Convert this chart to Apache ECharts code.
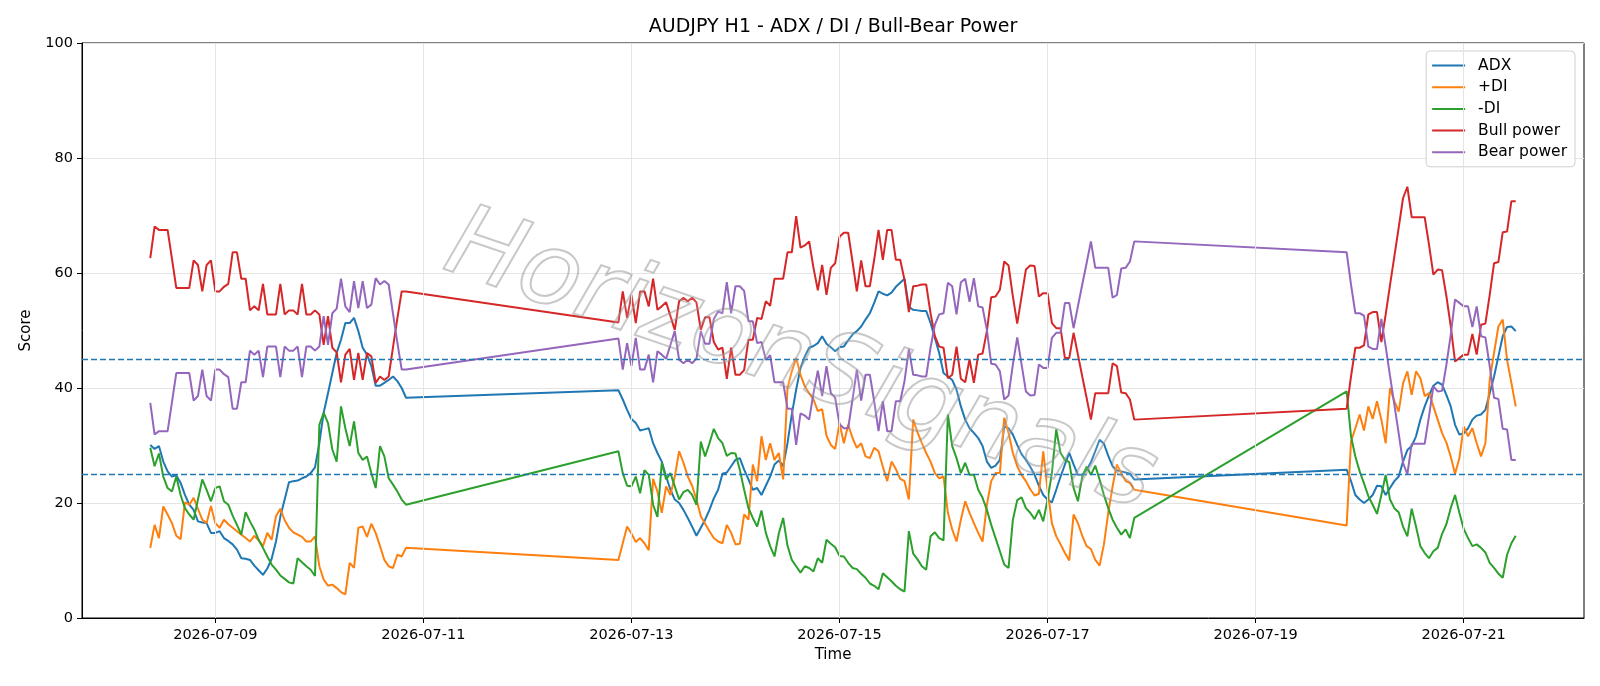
<!DOCTYPE html>
<html><head><meta charset="utf-8">
<script src="https://cdn.jsdelivr.net/npm/echarts@6/dist/echarts.min.js"></script>
<style>html,body{margin:0;padding:0;background:#fff}#c{width:1600px;height:686px}</style>
</head><body><div id="c"></div>
<script>
// ---- data ----
const sessionStarts = ['2026-07-08T09:00:00Z', '2026-07-12T21:00:00Z', '2026-07-19T21:00:00Z'];
const sessionLengths = [60, 120, 40];
const xTickLabels = ['2026-07-09', '2026-07-11', '2026-07-13', '2026-07-15', '2026-07-17', '2026-07-19', '2026-07-21'];
const thresholds = [25, 45];
const seriesNames = ['ADX', '+DI', '-DI', 'Bull power', 'Bear power'];
const seriesColors = ['#1f77b4', '#ff7f0e', '#2ca02c', '#d62728', '#9467bd'];

const adx = [
  30.1, 29.4, 29.9, 27.2, 25.5, 24.6, 24.8, 23.5, 21.4, 19.7,
  18.8, 16.8, 16.6, 16.5, 14.8, 14.8, 15.1, 13.9, 13.4, 12.8,
  11.9, 10.4, 10.3, 10.1, 9.1, 8.3, 7.5, 8.6, 10.3, 13.3,
  17.6, 20.6, 23.6, 23.8, 23.9, 24.3, 24.6, 25.2, 26.2, 30.4,
  35.7, 39.1, 42.6, 46.1, 48.4, 51.3, 51.3, 52.2, 49.9, 47.0,
  45.8, 43.8, 40.4, 40.4, 40.9, 41.4, 42.0, 41.2, 40.0, 38.3,
  39.6, 38.0, 36.2, 34.6, 33.9, 32.6, 32.8, 33.0, 30.4, 28.7,
  27.2, 24.6, 22.3, 20.6, 20.0, 18.8, 17.4, 15.9, 14.3, 15.7,
  17.1, 18.8, 20.8, 22.3, 25.1, 25.3, 26.4, 27.5, 27.8, 25.8,
  24.1, 22.3, 22.6, 21.4, 23.0, 24.6, 26.7, 27.4, 26.4, 30.4,
  35.4, 39.7, 43.5, 45.5, 47.0, 47.3, 47.8, 49.0, 47.7, 47.1,
  46.4, 47.1, 47.2, 48.3, 49.3, 49.9, 50.7, 51.9, 53.0, 54.8,
  56.8, 56.4, 56.1, 56.6, 57.6, 58.3, 59.0, 54.1, 53.6, 53.5,
  53.4, 53.4, 51.3, 48.7, 46.1, 42.6, 42.0, 41.4, 39.7, 36.8,
  34.5, 33.0, 32.2, 31.3, 29.9, 27.2, 26.1, 26.5, 27.5, 33.3,
  33.0, 31.9, 30.1, 28.5, 27.5, 26.3, 24.9, 23.0, 21.4, 20.6,
  20.1, 22.3, 24.6, 26.7, 28.7, 26.7, 24.9, 24.9, 25.8, 27.1,
  29.0, 31.0, 30.3, 28.2, 26.4, 25.7, 25.5, 25.3, 25.1, 24.1,
  25.8, 23.8, 21.4, 20.6, 20.0, 20.6, 21.4, 23.0, 22.9, 21.4,
  22.6, 23.8, 24.6, 27.2, 29.2, 29.9, 31.6, 34.5, 36.8, 38.7,
  40.4, 41.0, 40.6, 38.8, 36.8, 33.6, 31.9, 32.1, 33.0, 34.5,
  35.2, 35.4, 36.2, 39.1, 42.0, 45.5, 49.0, 50.6, 50.7, 49.9
];
const plusDI = [
  12.2, 16.2, 13.9, 19.4, 18.0, 16.5, 14.3, 13.7, 20.1, 19.7,
  20.9, 19.0, 17.1, 16.5, 19.5, 16.5, 15.7, 17.1, 16.3, 15.7,
  15.1, 14.5, 13.9, 13.3, 14.3, 13.5, 12.5, 14.8, 13.6, 17.7,
  19.0, 17.0, 15.7, 14.9, 14.5, 14.1, 13.3, 13.3, 14.2, 9.0,
  6.7, 5.6, 5.8, 5.2, 4.5, 4.1, 9.6, 8.7, 15.7, 15.9,
  14.1, 16.4, 14.8, 12.5, 10.1, 9.0, 8.7, 11.0, 10.7, 12.2,
  10.1, 13.0, 15.9, 14.7, 13.2, 13.9, 13.0, 11.8, 24.2, 22.0,
  18.3, 22.9, 21.4, 24.6, 29.0, 27.0, 24.6, 23.0, 20.6, 17.7,
  16.4, 15.1, 13.9, 13.3, 13.0, 16.2, 14.8, 12.8, 12.9, 18.0,
  17.1, 26.7, 23.8, 31.6, 27.5, 30.4, 27.5, 28.7, 24.1, 40.0,
  42.9, 45.2, 42.3, 40.3, 39.1, 38.0, 36.0, 36.3, 31.7, 30.1,
  29.4, 33.9, 30.4, 33.6, 31.3, 29.6, 30.4, 28.1, 27.8, 29.6,
  29.0, 26.3, 23.8, 27.2, 25.9, 24.2, 23.8, 20.6, 34.5, 32.3,
  30.4, 28.7, 27.2, 25.2, 24.3, 24.6, 18.3, 15.4, 13.3, 17.1,
  20.3, 18.3, 16.5, 14.8, 13.3, 19.7, 23.8, 25.2, 25.2, 34.8,
  32.2, 28.7, 26.4, 24.9, 23.8, 22.4, 21.3, 21.6, 29.0, 22.3,
  16.5, 14.2, 12.8, 11.3, 10.0, 18.0, 16.5, 14.3, 12.5, 12.0,
  10.1, 9.1, 12.8, 18.3, 22.9, 26.7, 25.2, 23.8, 23.5, 22.3,
  16.1, 30.7, 33.0, 35.4, 32.6, 36.8, 34.6, 37.7, 34.5, 30.4,
  40.0, 37.7, 35.9, 40.8, 42.9, 38.8, 42.9, 41.7, 38.6, 39.1,
  36.8, 34.5, 32.2, 30.5, 28.1, 25.1, 27.8, 33.3, 31.6, 33.0,
  30.4, 28.1, 30.4, 41.4, 46.1, 50.7, 51.9, 44.9, 40.9, 36.8
];
const minusDI = [
  29.6, 26.4, 28.6, 24.6, 22.6, 22.0, 24.6, 21.4, 19.1, 18.0,
  17.1, 20.6, 24.1, 22.3, 20.3, 22.6, 22.9, 20.3, 19.7, 17.8,
  16.2, 14.5, 18.4, 16.8, 15.4, 13.6, 12.2, 10.7, 9.3, 8.4,
  7.4, 6.8, 6.2, 6.0, 10.4, 9.7, 9.0, 8.4, 7.3, 33.6,
  35.7, 33.9, 29.3, 27.2, 36.8, 33.0, 29.9, 34.2, 28.7, 27.5,
  28.1, 25.2, 22.6, 29.9, 28.1, 24.3, 23.2, 22.0, 20.6, 19.7,
  29.0, 25.2, 23.0, 22.9, 24.6, 21.7, 25.7, 24.9, 19.7, 17.6,
  27.0, 24.1, 25.2, 22.9, 20.6, 21.9, 22.3, 21.4, 19.7, 30.7,
  28.1, 30.4, 32.9, 31.3, 30.4, 28.2, 28.7, 28.6, 25.8, 22.3,
  19.1, 17.4, 15.9, 18.7, 14.8, 12.5, 10.7, 14.7, 17.4, 12.6,
  10.1, 9.0, 7.9, 9.0, 8.7, 8.1, 10.4, 9.6, 13.6, 12.9,
  12.3, 10.8, 10.7, 9.6, 8.7, 8.5, 7.7, 7.0, 6.0, 5.6,
  5.0, 7.8, 7.1, 6.4, 5.6, 5.0, 4.6, 15.1, 11.2, 10.2,
  9.0, 8.4, 14.2, 14.9, 13.9, 13.5, 35.4, 29.9, 27.8, 25.2,
  27.0, 24.9, 24.9, 22.3, 20.9, 18.8, 16.2, 13.9, 11.6, 9.3,
  8.7, 17.1, 20.5, 21.0, 19.1, 18.3, 17.2, 18.8, 16.8, 20.6,
  25.2, 32.8, 28.7, 27.5, 27.1, 22.6, 20.3, 24.6, 26.3, 24.9,
  26.5, 24.1, 21.4, 19.1, 17.1, 15.7, 14.5, 15.4, 13.9, 17.4,
  39.4, 31.6, 28.1, 25.5, 23.4, 21.2, 19.7, 18.1, 21.4, 24.9,
  20.6, 19.1, 18.4, 15.9, 14.2, 19.0, 15.9, 12.5, 11.3, 10.4,
  11.6, 12.2, 14.6, 16.3, 19.1, 21.4, 18.3, 15.5, 13.9, 12.5,
  12.8, 12.2, 11.4, 9.6, 8.7, 7.7, 7.0, 11.0, 13.0, 14.3
];
const bullPower = [
  62.6, 68.1, 67.5, 67.5, 67.5, 62.5, 57.4, 57.4, 57.4, 57.4,
  62.2, 61.4, 56.8, 61.4, 62.2, 56.8, 56.8, 57.6, 58.1, 63.6,
  63.6, 59.0, 59.0, 53.5, 54.2, 53.5, 58.1, 52.8, 52.8, 52.8,
  58.1, 52.8, 53.5, 53.5, 52.8, 58.1, 52.8, 52.8, 53.5, 52.8,
  47.5, 52.5, 47.0, 46.2, 41.0, 45.8, 46.8, 41.4, 46.1, 41.4,
  46.1, 45.5, 40.9, 42.0, 41.4, 42.0, 47.1, 52.1, 56.8, 56.8,
  51.4, 56.8, 52.2, 56.2, 51.3, 56.8, 56.8, 54.2, 59.0, 53.6,
  54.2, 54.9, 52.5, 50.1, 55.1, 55.7, 55.1, 55.7, 54.9, 50.1,
  52.3, 52.3, 48.0, 46.7, 47.0, 41.6, 47.0, 42.3, 42.3, 43.1,
  48.4, 48.4, 52.2, 52.0, 55.1, 54.3, 59.0, 59.0, 59.0, 63.6,
  63.6, 69.9, 64.4, 64.8, 65.5, 60.9, 57.0, 61.4, 56.2, 60.9,
  61.7, 66.3, 67.0, 67.0, 62.0, 56.8, 62.2, 57.7, 57.7, 62.3,
  67.5, 62.3, 67.5, 67.5, 62.3, 62.3, 58.8, 53.2, 57.7, 57.8,
  58.0, 58.0, 53.0, 49.0, 47.2, 47.0, 41.7, 42.3, 47.2, 41.6,
  41.0, 45.0, 40.9, 45.8, 46.0, 49.9, 55.8, 55.9, 57.1, 62.0,
  61.3, 55.9, 51.2, 55.9, 60.6, 61.3, 61.2, 55.9, 56.5, 56.5,
  51.3, 50.4, 50.4, 45.2, 45.2, 49.6, 45.8, 42.0, 38.3, 34.5,
  39.1, 39.1, 39.1, 39.1, 44.3, 43.8, 39.2, 39.1, 38.0, 34.5,
  36.4, 42.0, 47.0, 47.0, 47.4, 52.8, 53.2, 53.2, 48.0, 52.8,
  57.9, 62.9, 67.9, 73.0, 75.0, 69.7, 69.7, 69.7, 69.7, 64.9,
  59.7, 60.6, 60.5, 56.0, 50.8, 44.6, 45.2, 45.8, 45.8, 49.4,
  45.8, 51.0, 51.2, 56.2, 61.7, 61.9, 67.1, 67.2, 72.5, 72.5
];
const bearPower = [
  37.4, 31.9, 32.5, 32.5, 32.5, 37.5, 42.6, 42.6, 42.6, 42.6,
  37.8, 38.6, 43.2, 38.6, 37.8, 43.2, 43.2, 42.4, 41.9, 36.4,
  36.4, 41.0, 41.0, 46.5, 45.8, 46.5, 41.9, 47.2, 47.2, 47.2,
  41.9, 47.2, 46.5, 46.5, 47.2, 41.9, 47.2, 47.2, 46.5, 47.2,
  52.5, 47.5, 53.0, 53.8, 59.0, 54.2, 53.2, 58.6, 53.9, 58.6,
  53.9, 54.5, 59.1, 58.0, 58.6, 58.0, 52.9, 47.9, 43.2, 43.2,
  48.6, 43.2, 47.8, 43.8, 48.7, 43.2, 43.2, 45.8, 41.0, 46.4,
  45.8, 45.1, 47.5, 49.9, 44.9, 44.3, 44.9, 44.3, 45.1, 49.9,
  47.7, 47.7, 52.0, 53.3, 53.0, 58.4, 53.0, 57.7, 57.7, 56.9,
  51.6, 51.6, 47.8, 48.0, 44.9, 45.7, 41.0, 41.0, 41.0, 36.4,
  36.4, 30.1, 35.6, 35.2, 34.5, 39.1, 43.0, 38.6, 43.8, 39.1,
  38.3, 33.7, 33.0, 33.0, 38.0, 43.2, 37.8, 42.3, 42.3, 37.7,
  32.5, 37.7, 32.5, 32.5, 37.7, 37.7, 41.2, 46.8, 42.3, 42.2,
  42.0, 42.0, 47.0, 51.0, 52.8, 53.0, 58.3, 57.7, 52.8, 58.4,
  59.0, 55.0, 59.1, 54.2, 54.0, 50.1, 44.2, 44.1, 42.9, 38.0,
  38.7, 44.1, 48.8, 44.1, 39.4, 38.7, 38.8, 44.1, 43.5, 43.5,
  48.7, 49.6, 49.6, 54.8, 54.8, 50.4, 54.2, 58.0, 61.7, 65.5,
  60.9, 60.9, 60.9, 60.9, 55.7, 56.2, 60.8, 60.9, 62.0, 65.5,
  63.6, 58.0, 53.0, 53.0, 52.6, 47.2, 46.8, 46.8, 52.0, 47.2,
  42.1, 37.1, 32.1, 27.0, 25.0, 30.3, 30.3, 30.3, 30.3, 35.1,
  40.3, 39.4, 39.5, 44.0, 49.2, 55.4, 54.8, 54.2, 54.2, 50.6,
  54.2, 49.0, 48.8, 43.8, 38.3, 38.1, 32.9, 32.8, 27.5, 27.5
];
const seriesValues = [adx, plusDI, minusDI, bullPower, bearPower];

// ---- build ----
const HOUR = 3600000;
const times = [];
sessionStarts.forEach((s, k) => {
  const t0 = Date.parse(s);
  for (let i = 0; i < sessionLengths[k]; i++) times.push(t0 + i * HOUR);
});
const tFirst = times[0], tLast = times[times.length - 1];
const pad = 0.05 * (tLast - tFirst);
const xMin = tFirst - pad, xMax = tLast + pad;
const tickVals = xTickLabels.map(s => Date.parse(s + 'T00:00:00Z'));
const FONT = 'DejaVu Sans';

const chart = echarts.init(document.getElementById('c'), null, {renderer: 'canvas'});
const series = seriesNames.map((name, k) => ({
  name: name,
  type: 'line',
  data: times.map((t, i) => [t, seriesValues[k][i]]),
  symbol: 'none',
  showSymbol: false,
  lineStyle: {color: seriesColors[k], width: 2},
  itemStyle: {color: seriesColors[k]},
  z: 3,
  silent: true
}));
// vertical grid lines (behind)
series.unshift({
  name: '_vgrid', type: 'line', data: [[tFirst, -1000]], symbol: 'none', z: 1, silent: true,
  lineStyle: {width: 0},
  markLine: {
    silent: true, symbol: ['none', 'none'], label: {show: false},
    lineStyle: {color: '#e4e4e4', type: 'solid', width: 1},
    emphasis: {disabled: true},
    data: tickVals.map(v => ({xAxis: v}))
  }
});
// threshold lines
series.push({
  name: '_thr', type: 'line', data: [[tFirst, -1000]], symbol: 'none', z: 4, silent: true,
  lineStyle: {width: 0},
  markLine: {
    silent: true, symbol: ['none', 'none'], label: {show: false},
    lineStyle: {color: '#1f77b4', type: [6, 3], width: 1.3},
    emphasis: {disabled: true},
    data: thresholds.map(v => ({yAxis: v}))
  }
});

const option = {
  animation: false,
  backgroundColor: '#fff',
  title: {
    text: 'AUDJPY H1 - ADX / DI / Bull-Bear Power',
    left: 833, top: 18, textAlign: 'center', padding: 0,
    textStyle: {fontFamily: FONT, fontSize: 19, fontWeight: 'normal', color: '#000'}
  },
  legend: {
    data: seriesNames.map((n, k) => ({name: n, icon: 'rect', itemStyle: {color: seriesColors[k]}})),
    orient: 'vertical', right: 25, top: 51,
    padding: [6, 8, 6, 6],
    itemWidth: 33, itemHeight: 2, itemGap: 4.7,
    borderColor: '#d0d0d0', borderWidth: 1, borderRadius: 4,
    backgroundColor: 'rgba(255,255,255,0.85)',
    textStyle: {fontFamily: FONT, fontSize: 15.5, color: '#000', lineHeight: 17, padding: [0, 0, 0, 8]}
  },
  grid: {left: 82, right: 16, top: 43, bottom: 68, show: true, borderColor: '#000', borderWidth: 1, containLabel: false},
  xAxis: {
    type: 'value', min: xMin, max: xMax,
    name: 'Time', nameLocation: 'middle', nameGap: 30,
    nameTextStyle: {fontFamily: FONT, fontSize: 15, color: '#000'},
    axisLine: {show: true, lineStyle: {color: '#000', width: 1}},
    axisTick: {show: true, customValues: tickVals, length: 5, lineStyle: {color: '#000'}},
    axisLabel: {
      customValues: tickVals, margin: 10, fontFamily: FONT, fontSize: 14.5, color: '#000',
      formatter: v => new Date(v).toISOString().slice(0, 10)
    },
    splitLine: {show: false}
  },
  yAxis: {
    type: 'value', min: 0, max: 100, interval: 20,
    name: 'Score', nameLocation: 'middle', nameGap: 48, nameRotate: 90,
    nameTextStyle: {fontFamily: FONT, fontSize: 15, color: '#000'},
    axisLine: {show: true, lineStyle: {color: '#000', width: 1}},
    axisTick: {show: true, length: 5, lineStyle: {color: '#000'}},
    axisLabel: {margin: 9, fontFamily: FONT, fontSize: 14.5, color: '#000'},
    splitLine: {show: true, lineStyle: {color: '#e4e4e4', width: 1}}
  },
  graphic: [{
    type: 'text', x: 800, y: 364, rotation: -19 * Math.PI / 180, z: 100, silent: true,
    style: {
      text: 'HorizonSignals', font: 'italic 100px "DejaVu Sans"',
      align: 'center', verticalAlign: 'middle',
      fill: 'rgba(255,255,255,0.12)', stroke: 'rgba(140,140,140,0.5)', lineWidth: 2
    }
  }],
  series: series
};
chart.setOption(option);
</script>
</body></html>
